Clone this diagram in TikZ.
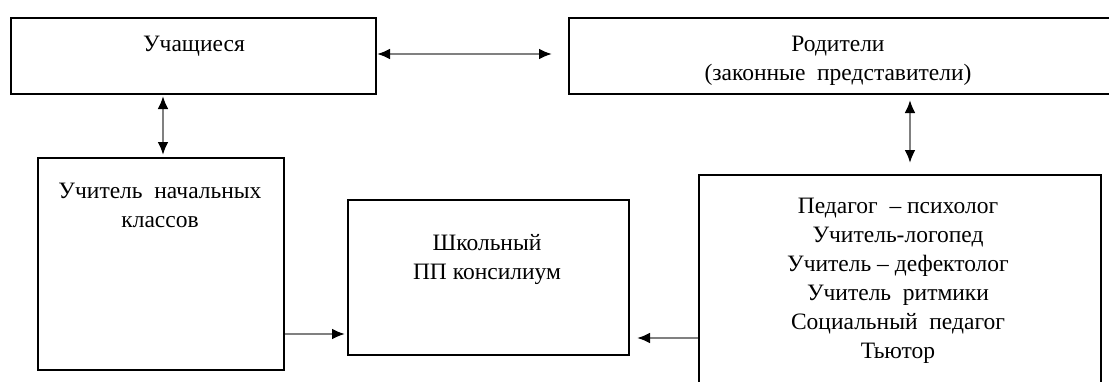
\documentclass[tikz,border=0pt]{standalone}
\usepackage{fontspec}
\setmainfont{Liberation Serif}
\usetikzlibrary{arrows.meta}
\begin{document}
\begin{tikzpicture}[x=1pt,y=-1pt,
  myhead/.tip={Latex[length=13pt,width=11pt,black]},
  box/.style={draw=black, line width=2pt, anchor=north west, inner sep=0pt},
  txt/.style={font=\fontsize{23.5}{29}\selectfont, align=center, inner sep=0pt, text=black},
  dbl/.style={myhead-myhead, draw=black!50, line width=2.3pt},
  one/.style={-myhead, draw=black!50, line width=2.3pt}]
\clip (0,0) rectangle (1109,381);
\fill[white] (0,0) rectangle (1109,381);
% boxes
\node[box, minimum width=365pt, minimum height=76pt] (A) at (10,17) {};
\node[box, minimum width=552pt, minimum height=76pt] (B) at (568,17) {};
\node[box, minimum width=246pt, minimum height=212pt] (C) at (37,157) {};
\node[box, minimum width=281pt, minimum height=155pt] (D) at (347,199) {};
\node[box, minimum width=402pt, minimum height=225pt] (E) at (698,174) {};
% texts
\node[txt] (At) at (194,46) {Учащиеся};
\node[txt] (Bt) at (838,61) {Родители\\(законные\ \ представители)};
\node[txt] (Ct) at (160,205) {Учитель\ \ начальных\\классов};
\node[txt] (Dt) at (487,259) {Школьный\\ПП консилиум};
\node[txt] (Et) at (898,281) {Педагог\ \ – психолог\\Учитель-логопед\\Учитель – дефектолог\\Учитель\ \ ритмики\\Социальный\ \ педагог\\Тьютор};
% connectors
\draw[dbl, shorten >=16pt] ([yshift=2pt]A.east) -- ([yshift=2pt]A.east -| B.west);
\draw[dbl, shorten <=1pt, shorten >=2pt] ([xshift=2pt]C.north |- A.south) -- ([xshift=2pt]C.north);
\draw[dbl, shorten <=11pt, shorten >=5pt] ([xshift=10pt]E.north) -- ([xshift=10pt]E.north |- B.south);
\draw[one, shorten >=2pt] ([yshift=37pt]C.south east) -- ([yshift=37pt]C.south east -| D.west);
\draw[one, shorten >=7pt] ([yshift=18pt]D.south east -| E.west) -- ([yshift=18pt]D.south east);
\end{tikzpicture}
\end{document}
